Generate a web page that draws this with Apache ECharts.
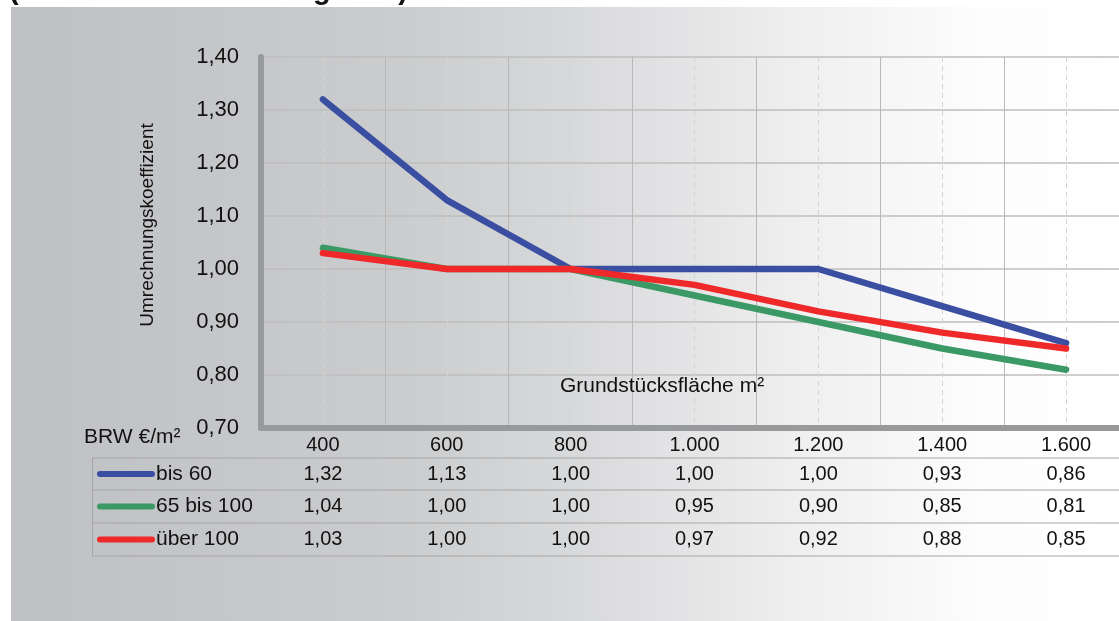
<!DOCTYPE html>
<html>
<head>
<meta charset="utf-8">
<script src="https://cdn.jsdelivr.net/npm/echarts@6/dist/echarts.min.js"></script>
<style>
  html, body { margin: 0; padding: 0; background: #fff; }
  #chart { width: 1119px; height: 621px; }
</style>
</head>
<body>
<div id="chart"></div>
<script>
// Daten
var kategorien = ['400', '600', '800', '1.000', '1.200', '1.400', '1.600'];
var reihenNamen = ['bis 60', '65 bis 100', 'über 100'];
var bis60 = [1.32, 1.13, 1.00, 1.00, 1.00, 0.93, 0.86];
var bis100 = [1.04, 1.00, 1.00, 0.95, 0.90, 0.85, 0.81];
var ueber100 = [1.03, 1.00, 1.00, 0.97, 0.92, 0.88, 0.85];
var farben = ['#3a4fa1', '#3b9966', '#ef2929'];

var FONT = 'Liberation Sans, Arial, sans-serif';

function komma(v) {
  return v.toFixed(2).replace('.', ',');
}

// Hilfsachse fuer die gestrichelten Linien in der Mitte jeder Kategorie
var hilfsAchse = [];
for (var i = 0; i < kategorien.length; i++) {
  hilfsAchse.push('r' + i);
  hilfsAchse.push(kategorien[i]);
}
hilfsAchse.push('r' + kategorien.length);

var chartDom = document.getElementById('chart');
var myChart = echarts.init(chartDom);

var reihenDaten = [bis60, bis100, ueber100];
var series = [];
for (var s = 0; s < reihenDaten.length; s++) {
  series.push({
    name: reihenNamen[s],
    type: 'line',
    xAxisIndex: 0,
    symbol: 'none',
    animation: false,
    lineStyle: { width: 6.5, color: farben[s], cap: 'round', join: 'round' },
    itemStyle: { color: farben[s] },
    data: reihenDaten[s]
  });
}

var option = {
  animation: false,
  textStyle: { fontFamily: FONT },
  grid: { left: 261, top: 57, right: -9, bottom: 193, outerBoundsMode: 'none', containLabel: false },
  xAxis: [
    {
      type: 'category',
      data: kategorien,
      boundaryGap: true,
      axisLine: { lineStyle: { color: '#98999b', width: 6 } },
      axisTick: { length: 128, lineStyle: { color: '#a6a6a6', width: 1 } },
      axisLabel: { color: '#111', fontSize: 20, margin: 7, fontFamily: FONT },
      splitLine: { show: true, lineStyle: { color: '#b8b8b8', width: 1 } }
    },
    {
      type: 'category',
      data: hilfsAchse,
      boundaryGap: false,
      position: 'top',
      axisLine: { show: false },
      axisTick: { show: false },
      axisLabel: { show: false },
      splitLine: {
        show: true,
        interval: function (idx) { return idx % 2 === 1; },
        lineStyle: { color: '#d4d4d4', width: 1, type: [5, 4] }
      }
    }
  ],
  yAxis: {
    type: 'value',
    min: 0.7,
    max: 1.4,
    interval: 0.1,
    axisLine: { show: true, lineStyle: { color: '#98999b', width: 6 } },
    axisTick: { show: false },
    axisLabel: { color: '#111', fontSize: 22, margin: 22, fontFamily: FONT, formatter: komma },
    splitLine: { lineStyle: { color: '#bebebe', width: 1.5 } }
  },
  series: series
};
myChart.setOption(option);

// Tabelle unter dem Diagramm
var zeilenMitte = [474, 506.5, 539.5];
var zeilenLinien = [458, 490, 523, 556];
var elemente = [];

elemente.push({
  type: 'rect', z: -100, silent: true,
  shape: { x: 11, y: 7, width: 1108, height: 614 },
  style: {
    fill: new echarts.graphic.LinearGradient(0, 0, 1, 0, [
      { offset: 0, color: '#bfc0c3' },
      { offset: 0.35, color: '#cbccce' },
      { offset: 0.5, color: '#d7d8da' },
      { offset: 0.7, color: '#eeeeef' },
      { offset: 0.88, color: '#fdfdfd' },
      { offset: 1, color: '#ffffff' }
    ])
  }
});

elemente.push({
  type: 'text', z: 10,
  style: {
    text: '(Individueller Wohnungsbau)', x: 9, y: -9,
    font: 'bold 29px ' + FONT, fill: '#111', verticalAlign: 'middle'
  }
});

elemente.push({
  type: 'text', z: 10, rotation: Math.PI / 2, x: 148, y: 225,
  style: {
    text: 'Umrechnungskoeffizient', x: 0, y: 0,
    font: '19px ' + FONT, fill: '#111', align: 'center', verticalAlign: 'middle'
  }
});

elemente.push({
  type: 'text', z: 10,
  style: {
    text: 'Grundstücksfläche m²', x: 662, y: 386,
    font: '21px ' + FONT, fill: '#111', align: 'center', verticalAlign: 'middle'
  }
});

elemente.push({
  type: 'text', z: 10,
  style: {
    text: 'BRW €/m²', x: 84, y: 437,
    font: '21px ' + FONT, fill: '#111', verticalAlign: 'middle'
  }
});

for (var l = 0; l < zeilenLinien.length; l++) {
  elemente.push({
    type: 'line', z: 5, silent: true,
    shape: { x1: 92, y1: zeilenLinien[l], x2: 1119, y2: zeilenLinien[l] },
    style: { stroke: '#a6a6a6', lineWidth: 1 }
  });
}
elemente.push({
  type: 'line', z: 5, silent: true,
  shape: { x1: 92.5, y1: 458, x2: 92.5, y2: 556 },
  style: { stroke: '#a6a6a6', lineWidth: 1 }
});

for (var r = 0; r < reihenDaten.length; r++) {
  var y = zeilenMitte[r];
  elemente.push({
    type: 'line', z: 10,
    shape: { x1: 100, y1: y, x2: 152, y2: y },
    style: { stroke: farben[r], lineWidth: 6, lineCap: 'round' }
  });
  elemente.push({
    type: 'text', z: 10,
    style: {
      text: reihenNamen[r], x: 156, y: y,
      font: '21px ' + FONT, fill: '#111', verticalAlign: 'middle'
    }
  });
  for (var c = 0; c < kategorien.length; c++) {
    var px = myChart.convertToPixel({ xAxisIndex: 0 }, c);
    elemente.push({
      type: 'text', z: 10,
      style: {
        text: komma(reihenDaten[r][c]), x: px, y: y,
        font: '20px ' + FONT, fill: '#111', align: 'center', verticalAlign: 'middle'
      }
    });
  }
}

myChart.setOption({ graphic: { elements: elemente } });
</script>
</body>
</html>
